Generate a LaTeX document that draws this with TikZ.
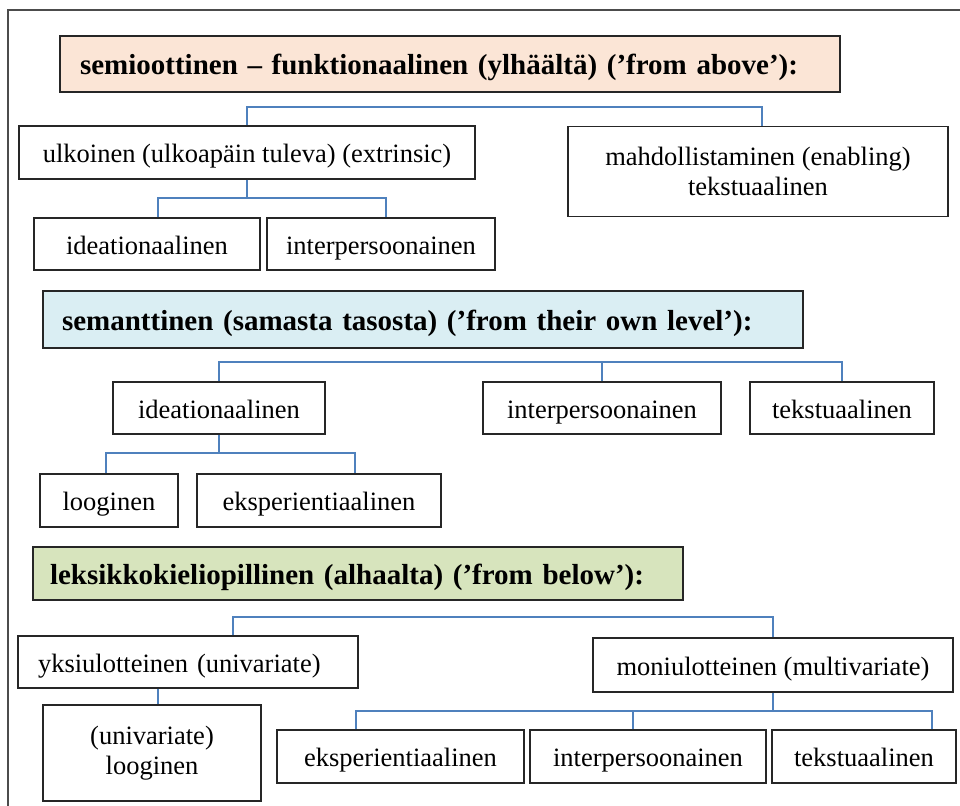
\documentclass[tikz,border=0pt]{standalone}
\usepackage{fontspec}
\setmainfont{Liberation Serif}
\definecolor{peach}{HTML}{FBE5D6}
\definecolor{paleblue}{HTML}{DAEEF3}
\definecolor{palegreen}{HTML}{D7E4BD}
\definecolor{linkblue}{HTML}{4F81BD}
\begin{document}
\begin{tikzpicture}[x=1pt,y=-1pt,
  box/.style={draw=black!85, line width=1.1pt, fill=white, inner sep=0pt,
    font=\fontsize{26.5}{29}\selectfont, text height=25pt, text depth=5pt},
  twoline/.style={draw=black!85, line width=1.1pt, fill=white, inner sep=0pt,
    align=center, font=\fontsize{26.5}{30}\selectfont},
  header/.style={draw=black!85, line width=1.1pt, inner sep=0pt, align=left,
    font=\fontsize{29}{32}\selectfont\bfseries, text height=27pt, text depth=5pt},
  conn/.style={draw=linkblue, line width=1.5pt},
  frame/.style={draw=black!70, line width=1.5pt}]
\useasboundingbox (0,0) rectangle (960,805);

% outer frame (top and left edges)
\draw[frame] (8,810) -- (8,10) -- (962,10);

% --- semiotic-functional level ---
\node[header, fill=peach, minimum width=780, minimum height=56, text width=740, inner xsep=20]
  (h1) at (450,64) {semioottinen – funktionaalinen (ylhäältä) (’from above’):};
\node[box, minimum width=456, minimum height=53] (ulk) at (247,152.5)
  {ulkoinen (ulkoapäin tuleva) (extrinsic)};
\node[twoline, minimum width=380, minimum height=90] (mahd) at (758,171.5)
  {mahdollistaminen (enabling)\\tekstuaalinen};
\node[box, minimum width=226, minimum height=52] (ide1) at (147,244) {ideationaalinen};
\node[box, minimum width=228, minimum height=52] (int1) at (381,244) {interpersoonainen};

\draw[conn] (ulk.north) -- (ulk.north |- 0,107) -- (762,107) -- (762,0 |- mahd.north);
\draw[conn] (ulk.south) -- (ulk.south |- 0,198);
\draw[conn] (158,0 |- ide1.north) -- (158,198) -- (386,198) -- (386,0 |- int1.north);

% --- semantic level ---
\node[header, fill=paleblue, minimum width=760, minimum height=57, text width=722, inner xsep=19]
  (h2) at (423,319.5) {semanttinen (samasta tasosta) (’from their own level’):};
\node[box, minimum width=212, minimum height=52] (ide2) at (219,408) {ideationaalinen};
\node[box, minimum width=238, minimum height=52] (int2) at (602,408) {interpersoonainen};
\node[box, minimum width=184, minimum height=52] (tek2) at (842,408) {tekstuaalinen};
\node[box, minimum width=138, minimum height=53] (loog) at (109,500.5) {looginen};
\node[box, minimum width=244, minimum height=53] (eks2) at (319,500.5) {eksperientiaalinen};

\draw[conn] (ide2.north) -- (ide2.north |- 0,362) -- (tek2.north |- 0,362) -- (tek2.north);
\draw[conn] (int2.north) -- (int2.north |- 0,362);
\draw[conn] (ide2.south) -- (ide2.south |- 0,453);
\draw[conn] (106,0 |- loog.north) -- (106,453) -- (355,453) -- (355,0 |- eks2.north);

% --- lexicogrammatical level ---
\node[header, fill=palegreen, minimum width=650, minimum height=53, text width=616, inner xsep=17]
  (h3) at (358,573.5) {leksikkokieliopillinen (alhaalta) (’from below’):};
\node[box, minimum width=340, minimum height=52, text width=300, inner xsep=20, align=left]
  (yksi) at (188,662) {yksiulotteinen (univariate)};
\node[twoline, minimum width=218, minimum height=96] (univ) at (152,753)
  {(univariate)\\looginen};
\node[box, minimum width=360, minimum height=54] (moni) at (773,665)
  {moniulotteinen (multivariate)};
\node[box, minimum width=247, minimum height=53] (eks3) at (400.5,756.5) {eksperientiaalinen};
\node[box, minimum width=236, minimum height=53] (int3) at (648,756.5) {interpersoonainen};
\node[box, minimum width=184, minimum height=53] (tek3) at (864,756.5) {tekstuaalinen};

\draw[conn] (233,0 |- yksi.north) -- (233,617) -- (moni.north |- 0,617) -- (moni.north);
\draw[conn] (158,0 |- yksi.south) -- (158,0 |- univ.north);
\draw[conn] (moni.south) -- (moni.south |- 0,711);
\draw[conn] (356,0 |- eks3.north) -- (356,711) -- (932,711) -- (932,0 |- tek3.north);
\draw[conn] (633,0 |- int3.north) -- (633,711);
\end{tikzpicture}
\end{document}
